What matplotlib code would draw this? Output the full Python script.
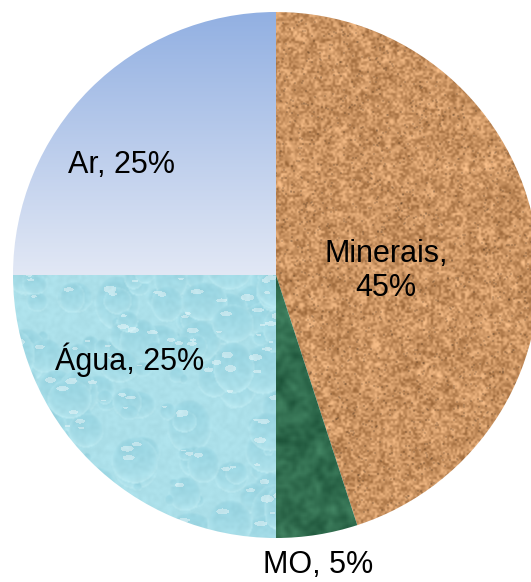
import matplotlib
matplotlib.use("Agg")
import matplotlib.pyplot as plt
import numpy as np

# --- Soil composition ---
labels = ['Minerais', 'MO', 'Água', 'Ar']
shares = [45, 5, 25, 25]
label_text = ['Minerais,\n45%', 'MO, 5%', 'Água, 25%', 'Ar, 25%']

# label anchor points (pixel layout, y measured upward)
label_xy = [(386, 311), (318, 17), (130, 222), (122, 417)]

W, H = 531, 582
rng = np.random.default_rng(3)


def blur(a, k):
    if k <= 1:
        return a
    ker = np.ones(k) / k
    a = np.apply_along_axis(lambda r: np.convolve(r, ker, mode='same'), 1, a)
    a = np.apply_along_axis(lambda c: np.convolve(c, ker, mode='same'), 0, a)
    return a


def noise(cell, k):
    n = rng.random((H // cell + 2, W // cell + 2))
    big = np.kron(n, np.ones((cell, cell)))[:H, :W]
    big = blur(big, k)
    big = (big - big.min()) / (big.max() - big.min())
    return big


def colorize(base, field, amp):
    base = np.array(base, dtype=float) / 255
    img = base[None, None, :] + (field[..., None] - 0.5) * np.array(amp)[None, None, :]
    return np.clip(img, 0, 1)


# sand texture for the mineral fraction
fine = noise(2, 2)
coarse = noise(7, 8)
sand = colorize((203, 148, 98), 0.7 * fine + 0.3 * coarse, (0.45, 0.42, 0.38))
specks = rng.random((H, W)) < 0.015
sand[specks] = sand[specks] * 0.5
sand = np.stack([blur(sand[..., i], 2) for i in range(3)], axis=-1)

# mottled green for organic matter
mott = 0.5 * noise(4, 6) + 0.5 * noise(12, 13)
green = colorize((48, 108, 78), mott, (0.20, 0.26, 0.22))

# water droplets: each drop overwrites the shading below it
shade_map = np.zeros((H, W))
glint = np.zeros((H, W), dtype=bool)
yy, xx = np.mgrid[0:H, 0:W]
for _ in range(170):
    cx, cy = rng.uniform(0, 290), rng.uniform(270, 545)
    a = rng.uniform(4, 24)
    b = a * rng.uniform(0.7, 1.25)
    x0, x1 = int(max(cx - a - 2, 0)), int(min(cx + a + 2, W))
    y0, y1 = int(max(cy - b - 2, 0)), int(min(cy + b + 2, H))
    if x1 <= x0 or y1 <= y0:
        continue
    sx, sy = xx[y0:y1, x0:x1], yy[y0:y1, x0:x1]
    d = ((sx - cx) / a) ** 2 + ((sy - cy) / b) ** 2
    inside = d < 1
    vert = (sy - cy) / b  # -1 at top, +1 at bottom
    s = -0.09 * (1 - vert) * 0.5 + 0.07 * d ** 4
    region = shade_map[y0:y1, x0:x1]
    region[inside] = s[inside]
    hl = (((sx - cx + 0.3 * a) / (0.28 * a)) ** 2 + ((sy - cy + 0.5 * b) / (0.13 * b)) ** 2) < 1
    glint[y0:y1, x0:x1] |= hl & (a > 8)
shade_map = blur(shade_map, 2)
water = (np.array([172, 224, 234]) / 255)[None, None, :] + shade_map[..., None] * np.array([1.0, 0.6, 0.45])
water[glint] = water[glint] * 0.6 + 0.4
water = np.clip(water + (noise(3, 4)[..., None] - 0.5) * 0.04, 0, 1)

# sky gradient for air, spanning the top of the circle down to its centre row
rows = np.arange(H)
t = np.clip((rows - 12) / (275 - 12), 0, 1)[:, None, None]
top = np.array([146, 176, 226]) / 255
bottom = np.array([226, 232, 245]) / 255
sky = np.broadcast_to(top + (bottom - top) * t, (H, W, 3)).copy()

textures = [sand, green, water, sky]

fig = plt.figure(figsize=(W / 100, H / 100), dpi=100)
ax = fig.add_axes([0, 0, 1, 1])
wedges, _ = ax.pie(shares, startangle=90, counterclock=False,
                   center=(276, 307), radius=263,
                   wedgeprops=dict(facecolor='none', edgecolor='none'))
ax.set_xlim(0, W)
ax.set_ylim(0, H)
ax.set_aspect('equal')
ax.axis('off')

for w, tex in zip(wedges, textures):
    im = ax.imshow(tex, extent=(0, W, 0, H), origin='upper',
                   interpolation='bilinear', zorder=1)
    im.set_clip_path(w)

for txt, (x, y) in zip(label_text, label_xy):
    ax.text(x, y, txt, ha='center', va='center', fontsize=22,
            family='Liberation Sans', color='black', zorder=3,
            linespacing=1.15)

ax.set_xlim(0, W)
ax.set_ylim(0, H)
fig.savefig('out.png', dpi=100)
